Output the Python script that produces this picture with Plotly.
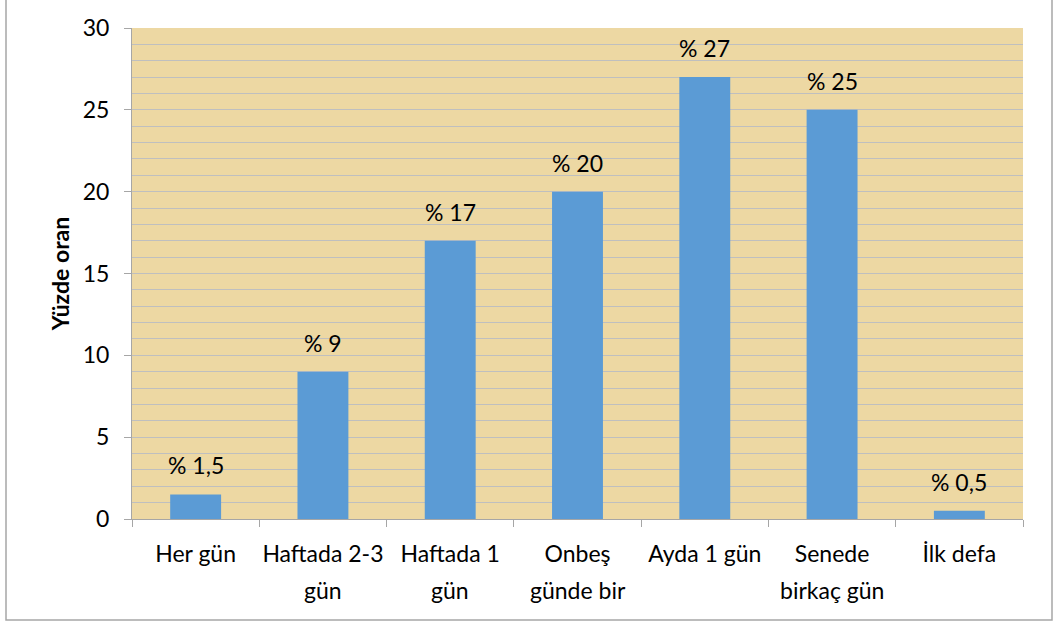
import plotly.graph_objects as go

categories = ["Her gün", "Haftada 2-3 gün", "Haftada 1 gün", "Onbeş günde bir",
              "Ayda 1 gün", "Senede birkaç gün", "İlk defa"]
line1 = ["Her gün", "Haftada 2-3", "Haftada 1", "Onbeş", "Ayda 1 gün", "Senede", "İlk defa"]
line2 = ["", "gün", "gün", "günde bir", "", "birkaç gün", ""]
values = [1.5, 9, 17, 20, 27, 25, 0.5]
labels = ["% 1,5", "% 9", "% 17", "% 20", "% 27", "% 25", "% 0,5"]

FONT = "Lato"
FS = 23
fig = go.Figure()
fig.add_trace(go.Bar(x=categories, y=values, marker_color="#5B9BD5",
                     marker_line_width=0, width=0.4, hoverinfo="skip"))

annotations = []
for c, v, t in zip(categories, values, labels):
    annotations.append(dict(x=c, y=v, xref="x", yref="y", text=t, showarrow=False,
                            yanchor="middle", yshift=29,
                            font=dict(family=FONT, size=FS, color="#000")))
for c, t in zip(categories, line2):
    if t:
        annotations.append(dict(x=c, y=0, xref="x", yref="y", text=t, showarrow=False,
                                yanchor="middle", yshift=-71,
                                font=dict(family=FONT, size=FS, color="#000")))

fig.update_layout(
    width=1056, height=623,
    margin=dict(l=132, r=33, t=28, b=104, autoexpand=False),
    paper_bgcolor="white",
    plot_bgcolor="#EDD8A3",
    showlegend=False,
    bargap=0.6,
    annotations=annotations,
    font=dict(family=FONT, size=FS, color="#000"),
    xaxis=dict(
        tickmode="array", tickvals=categories, ticktext=line1, tickangle=0,
        automargin=False,
        tickson="boundaries", ticks="outside", ticklen=7, tickcolor="#A6A6A6",
        showline=True, linecolor="#A6A6A6", linewidth=1,
        showgrid=False, ticklabelstandoff=14,
        tickfont=dict(family=FONT, size=FS, color="#000"),
    ),
    yaxis=dict(
        range=[0, 30], dtick=5, tick0=0, automargin=False,
        ticks="outside", ticklen=7, tickcolor="#A6A6A6",
        showline=True, linecolor="#A6A6A6", linewidth=1,
        showgrid=True, gridcolor="#BFBFBF", gridwidth=1,
        minor=dict(dtick=1, showgrid=True, gridcolor="#BFBFBF", gridwidth=1),
        zeroline=False, ticklabelstandoff=10,
        tickfont=dict(family=FONT, size=FS, color="#000"),
        title=dict(text="<b>Yüzde oran</b>", standoff=6,
                   font=dict(family=FONT, size=FS, color="#000")),
    ),
    shapes=[dict(type="rect", xref="paper", yref="paper",
                 x0=(6 - 132) / 891, x1=(1052 - 132) / 891,
                 y0=(519 - 620) / 491, y1=(519 + 2) / 491,
                 line=dict(color="#A6A6A6", width=1.5), fillcolor="rgba(0,0,0,0)",
                 layer="below")],
)

fig.write_html("out.html", config={"displayModeBar": False},
               post_script="document.body.style.margin='0';")
